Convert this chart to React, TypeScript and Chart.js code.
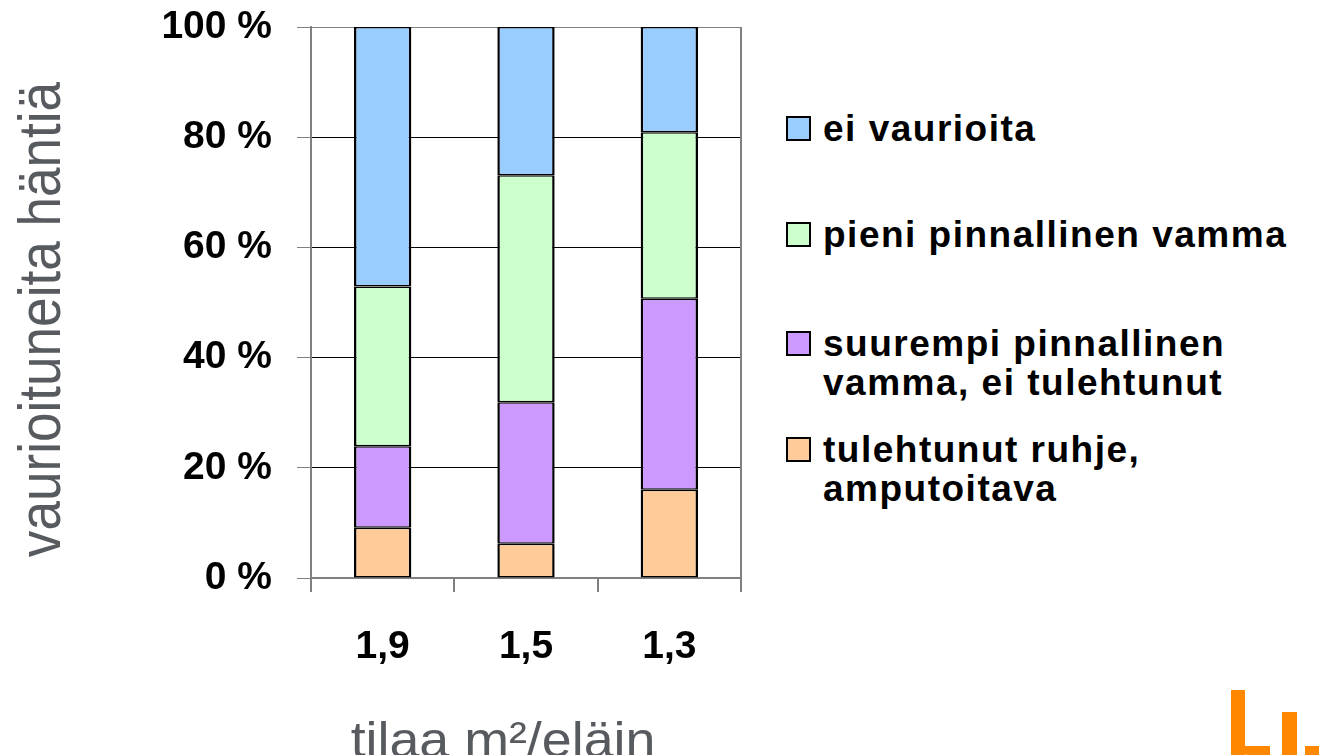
import React, { useEffect, useRef } from 'react';
import { Chart, registerables } from 'chart.js';

Chart.register(...registerables);

// ---- data ----
const categories = ['1,9', '1,5', '1,3'];
const seriesLabels = [
  'tulehtunut ruhje, amputoitava',
  'suurempi pinnallinen vamma, ei tulehtunut',
  'pieni pinnallinen vamma',
  'ei vaurioita',
];
const tulehtunut = [9.1, 6.2, 16.0];
const suurempi = [14.8, 25.7, 34.7];
const pieni = [29.0, 41.2, 30.2];
const eiVaurioita = [47.1, 26.9, 19.1];
const yTicks = [0, 20, 40, 60, 80, 100];
const yTitle = 'vaurioituneita häntiä';
const xTitle = 'tilaa m²/eläin';
const legendLines = [
  ['ei vaurioita'],
  ['pieni pinnallinen vamma'],
  ['suurempi pinnallinen', 'vamma, ei tulehtunut'],
  ['tulehtunut ruhje,', 'amputoitava'],
];

const seriesColors = ['#FFCC99', '#CC99FF', '#CCFFCC', '#99CCFF'];
const legendColors = ['#99CCFF', '#CCFFCC', '#CC99FF', '#FFCC99'];
const FONT = '"Liberation Sans", Arial, Helvetica, sans-serif';
const GREY = '#808080';
const TITLE_GREY = '#575b5f';

const titlesPlugin = {
  id: 'customTitles',
  afterDraw(chart: any) {
    const { ctx, chartArea } = chart;
    ctx.save();
    // right border of plot
    ctx.strokeStyle = GREY;
    ctx.lineWidth = 2;
    ctx.beginPath();
    ctx.moveTo(chartArea.right, chartArea.top);
    ctx.lineTo(chartArea.right, chartArea.bottom);
    ctx.stroke();
    ctx.restore();

    // y title
    ctx.save();
    ctx.fillStyle = TITLE_GREY;
    ctx.font = `60px ${FONT}`;
    ctx.textAlign = 'center';
    ctx.textBaseline = 'alphabetic';
    ctx.translate(60, 319.5);
    ctx.rotate(-Math.PI / 2);
    ctx.scale(0.885, 1);
    ctx.fillText(yTitle, 0, 0);
    ctx.restore();

    // x title
    ctx.save();
    ctx.fillStyle = TITLE_GREY;
    ctx.font = `50px ${FONT}`;
    ctx.textAlign = 'center';
    ctx.textBaseline = 'alphabetic';
    ctx.translate(503, 757);
    ctx.scale(1.075, 1);
    ctx.fillText(xTitle, 0, 0);
    ctx.restore();
  },
};

export default function App() {
  const canvasRef = useRef<HTMLCanvasElement | null>(null);

  useEffect(() => {
    if (!canvasRef.current) return;
    const values = [tulehtunut, suurempi, pieni, eiVaurioita];
    const chart = new Chart(canvasRef.current, {
      type: 'bar',
      data: {
        labels: categories,
        datasets: values.map((d, i) => ({
          label: seriesLabels[i],
          data: d,
          backgroundColor: seriesColors[i],
          borderColor: '#000000',
          borderWidth: { left: 2.5, right: 2.5, top: 1.5, bottom: 1.5 },
          borderSkipped: false,
          barPercentage: 0.4,
          categoryPercentage: 1,
        })),
      },
      options: {
        responsive: false,
        animation: false,
        events: [],
        layout: { padding: { top: 27, right: 29, left: 0, bottom: 0 } },
        plugins: {
          legend: { display: false },
          tooltip: { enabled: false },
          title: { display: false },
        },
        scales: {
          x: {
            stacked: true,
            offset: true,
            afterFit: (scale: any) => {
              scale.height = 177;
              scale.paddingLeft = 0;
              scale.paddingRight = 0;
            },
            grid: {
              offset: true,
              drawOnChartArea: false,
              tickLength: 14,
              tickColor: GREY,
              lineWidth: 2,
            },
            border: { color: GREY, width: 2 },
            ticks: {
              color: '#000000',
              font: { family: FONT, size: 39, weight: 'bold' },
              padding: 32,
              maxRotation: 0,
            },
          },
          y: {
            stacked: true,
            min: 0,
            max: 100,
            afterFit: (scale: any) => {
              scale.width = 311;
              scale.paddingTop = 0;
              scale.paddingBottom = 0;
            },
            afterBuildTicks: (scale: any) => {
              scale.ticks = yTicks.map((v) => ({ value: v }));
            },
            grid: {
              color: (ctx: any) => (ctx.tick && ctx.tick.value === 100 ? GREY : '#000000'),
              lineWidth: 1,
              tickLength: 14,
              tickColor: GREY,
            },
            border: { color: GREY, width: 2 },
            ticks: {
              color: '#000000',
              font: { family: FONT, size: 39, weight: 'bold' },
              padding: 25,
              callback: (v: any) => `${v} %`,
            },
          },
        },
      },
      plugins: [titlesPlugin],
    });
    return () => chart.destroy();
  }, []);

  const legendTops = [109, 215, 324, 430];

  return (
    <div
      style={{
        position: 'fixed',
        left: 0,
        top: 0,
        width: 1319,
        height: 755,
        overflow: 'hidden',
        background: '#ffffff',
      }}
    >
      <canvas
        ref={canvasRef}
        width={770}
        height={755}
        style={{ position: 'absolute', left: 0, top: 0, width: 770, height: 755 }}
      />
      {legendLines.map((lines, i) => (
        <div
          key={i}
          style={{ position: 'absolute', left: 786, top: legendTops[i] }}
        >
          <div
            style={{
              position: 'absolute',
              left: 0,
              top: 7,
              width: 25,
              height: 25,
              boxSizing: 'border-box',
              border: '2px solid #000',
              background: legendColors[i],
            }}
          />
          <div
            style={{
              marginLeft: 37,
              fontFamily: FONT,
              fontWeight: 'bold',
              fontSize: 37,
              lineHeight: '39px',
              letterSpacing: '1.5px',
              color: '#000',
              whiteSpace: 'nowrap',
            }}
          >
            {lines.map((l, j) => (
              <div key={j}>{l}</div>
            ))}
          </div>
        </div>
      ))}
      {/* partial logo at bottom right */}
      <div style={{ position: 'absolute', left: 1231, top: 690, width: 14, height: 65, background: '#FF8800' }} />
      <div style={{ position: 'absolute', left: 1240, top: 746, width: 30, height: 9, background: '#FF8800', borderBottomLeftRadius: 8 }} />
      <div style={{ position: 'absolute', left: 1282, top: 712, width: 15, height: 43, background: '#FF8800' }} />
      <div style={{ position: 'absolute', left: 1305, top: 746, width: 14, height: 9, background: '#FF8800' }} />
    </div>
  );
}
